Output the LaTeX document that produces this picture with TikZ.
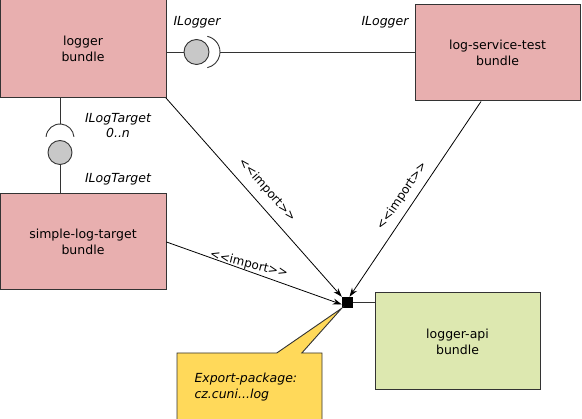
\documentclass[tikz,border=0pt]{standalone}
\usepackage{fontspec}
\setmainfont{DejaVu Sans}
\usetikzlibrary{arrows.meta,shapes.callouts}
\definecolor{bpink}{HTML}{E8AFAF}
\definecolor{bgreen}{HTML}{DDE8B0}
\definecolor{nyellow}{HTML}{FFD95A}
\definecolor{edge}{HTML}{333333}
\definecolor{ballgray}{HTML}{C8C8C8}
\tikzset{
  bundlebox/.style={draw=edge, line width=1pt, fill=bpink, align=center, inner sep=0pt,
     font=\fontsize{12.5}{16}\selectfont},
  ballnode/.style={circle, draw=edge, line width=0.9pt, fill=ballgray, minimum size=24pt, inner sep=0pt},
  conn/.style={draw=edge, line width=0.9pt},
  imparrow/.style={draw=black, line width=0.8pt, -{Stealth[length=9pt,width=6pt]}},
  lbl/.style={font=\fontsize{12.5}{15}\selectfont\itshape, inner sep=0pt},
  implbl/.style={font=\fontsize{12}{13}\selectfont, inner sep=0pt},
}
\begin{document}
\begin{tikzpicture}[x=1pt,y=-1pt]
\useasboundingbox (0,0) rectangle (582,419);
% boxes
\node[bundlebox, minimum width=166pt, minimum height=98pt] (logger) at (83,49) {logger\\bundle};
\node[bundlebox, minimum width=165pt, minimum height=96pt] (lst) at (497.5,53) {log-service-test\\bundle};
\node[bundlebox, minimum width=166pt, minimum height=96pt] (slt) at (83,242) {simple-log-target\\bundle};
\node[bundlebox, fill=bgreen, minimum width=165pt, minimum height=97pt] (api) at (457.5,341.5) {logger-api\\bundle};
% export square
\node[fill=black, minimum size=11pt, inner sep=0pt] (sq) at (347.5,302.5) {};
\draw[conn] (sq.east) -- (sq.east -| api.west);
% note
\node[rectangle callout, callout absolute pointer={(sq.south west)}, callout pointer width=25pt,
  fill=nyellow, draw=edge, line width=0.9pt, minimum width=145pt, minimum height=68pt,
  text width=110pt, align=left, inner sep=0pt,
  font=\fontsize{12.5}{15.5}\selectfont\itshape] (note) at (249.5,387) {Export-package:\\cz.cuni...log};
% horizontal ball and socket
\node[ballnode, minimum size=25pt] (ball1) at (196.5,52) {};
\coordinate (sock1) at (220,52);
\draw[conn] (logger.east |- ball1) -- (ball1.west);
\draw[conn] ([shift={(-78:16)}]204,52) arc[start angle=-78, end angle=78, radius=16];
\draw[conn] (sock1) -- (sock1 -| lst.west);
% vertical ball and socket
\node[ballnode] (ball2) at (60,152.5) {};
\coordinate (sock2) at (60,124);
\draw[conn] (logger.south -| sock2) -- (sock2);
\draw[conn] ([shift={(185:14)}]60,138) arc[start angle=185, end angle=355, radius=14];
\draw[conn] (ball2.south) -- (ball2.south |- slt.north);
% interface labels
\node[lbl] (l1) at (197,22) {ILogger};
\node[lbl] (l2) at (385,22) {ILogger};
\node[lbl, align=center] (l3) at (118,125.5) {ILogTarget\\0..n};
\node[lbl] (l4) at (118,179) {ILogTarget};
% import arrows
\draw[imparrow] (166,98) -- (sq.north west);
\draw[imparrow] (lst.south -| 481,0) -- ([xshift=2pt]sq.north);
\draw[imparrow] (slt.east) -- ([yshift=-2pt]sq.west);
\node[implbl, rotate=-48.7] (i1) at (267,190) {<{}<import>{}>};
\node[implbl, rotate=56.1] (i2) at (402,196) {<{}<import>{}>};
\node[implbl, rotate=-14.1] (i3) at (249,264.5) {<{}<import>{}>};
\end{tikzpicture}
\end{document}
